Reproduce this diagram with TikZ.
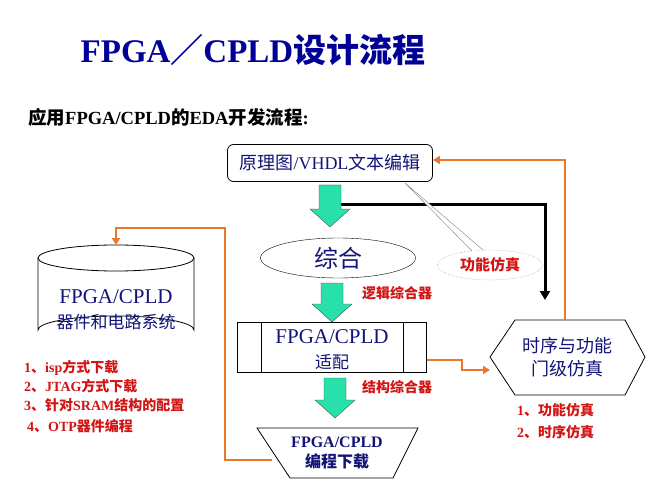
\documentclass[tikz,border=0pt]{standalone}
\usepackage{fontspec}
\setmainfont{Liberation Serif}
\newfontfamily\cjk{Noto Sans CJK SC}
\usetikzlibrary{shapes.geometric,arrows.meta}
\definecolor{navy}{RGB}{20,20,120}
\definecolor{ttl}{RGB}{0,0,150}
\definecolor{redt}{RGB}{210,20,20}
\definecolor{org}{RGB}{235,120,40}
\definecolor{grn}{RGB}{40,225,170}
\newcommand\garrow[3]{\draw[fill=grn,draw=black!70] (#1-11,#2)--(#1+11,#2)--(#1+11,#3-18)--(#1+20,#3-18)--(#1,#3)--(#1-20,#3-18)--(#1-11,#3-18)--cycle;}
\begin{document}
\begin{tikzpicture}[x=1pt,y=-1pt,
  redl/.style={text=redt,font=\bfseries\fontsize{14}{16}\selectfont,anchor=west,inner sep=0pt},
  oarr/.style={draw=org,line width=2.2pt,-{Triangle[length=7pt,width=8pt]}},
  box/.style={draw=black,line width=0.8pt,fill=white}]
\useasboundingbox (0,0) rectangle (667,500);
\node[text=ttl,font=\bfseries\fontsize{33}{36}\selectfont] (title) at (253,50) {FPGA{\cjk ／}CPLD{\cjk 设计流程}};
\node[anchor=west,inner sep=0pt,font=\bfseries\fontsize{18.5}{20}\selectfont] (sub) at (28,117) {{\cjk 应用}FPGA/CPLD{\cjk 的}EDA{\cjk 开发流程}:};
% top box
\node[box,rounded corners=6pt,minimum width=205pt,minimum height=37pt,text=navy,font=\fontsize{18}{20}\selectfont] (src) at (330,163) {{\cjk 原理图}/VHDL{\cjk 文本编辑}};
% black arrow
\coordinate (b1) at (340,204);\coordinate (b2) at (545,204);\coordinate (b3) at (545,300);
\draw[line width=3pt,-{Triangle[length=9pt,width=10pt]}] (b1)--(b2)--(b3);
\garrow{330}{185}{227}
% ellipse synth
\node[draw,ellipse,minimum width=155pt,minimum height=40pt,inner sep=0pt,text=navy,font=\cjk\fontsize{24}{26}\selectfont] (syn) at (338,258) {综合};
% callout
\node[draw=gray,densely dotted,ellipse,minimum width=105pt,minimum height=30pt,inner sep=0pt,text=redt,font=\cjk\bfseries\fontsize{15}{17}\selectfont] (fs) at (490,265) {功能仿真};
\coordinate (c0) at (405,183);
\draw[gray,fill=white] (472,251)--(c0)--(483,250);
\garrow{332}{283}{322}
\node[redl] (l1) at (362,293) {\cjk 逻辑综合器};
% fit box
\node[box,minimum width=189pt,minimum height=50pt] (fit) at (332,347) {};
\draw (fit.north west)++(24,0) -- ++(0,50);
\draw (fit.north east)++(-24,0) -- ++(0,50);
\node[text=navy,font=\fontsize{21}{23}\selectfont] (fitA) at (332,337) {FPGA/CPLD};
\node[text=navy,font=\cjk\fontsize{17}{19}\selectfont] (fitB) at (332,362) {适配};
\garrow{335}{378}{418}
\node[redl] (l2) at (362,387) {\cjk 结构综合器};
% trapezoid
\draw[box] (257,428)--(418,428)--(393,478)--(290,478)--cycle;
\node[text=navy,font=\bfseries\fontsize{16}{20}\selectfont,align=center] (prog) at (337,453) {FPGA/CPLD\\\cjk 编程下载};
% hexagon
\draw[box] (490,357)--(515,320)--(625,320)--(645,357)--(625,395)--(515,395)--cycle;
\node[text=navy,font=\cjk\fontsize{18}{23}\selectfont,align=center] (hex) at (567,357) {时序与功能\\门级仿真};
\coordinate (hL) at (490,370);\coordinate (hT) at (565,320);
% cylinder
\draw[box] (38,258) -- (38,330) arc[start angle=180,end angle=360,x radius=78,y radius=14] -- (194,258);
\draw[box] (116,258) ellipse[x radius=78,y radius=13];
\node[text=navy,font=\fontsize{21}{23}\selectfont] (cylA) at (116,297) {FPGA/CPLD};
\node[text=navy,font=\cjk\fontsize{17}{19}\selectfont] (cylB) at (116,322) {器件和电路系统};
\coordinate (cylT) at (116,245);
% orange connectors
\draw[oarr] (fit.east|-0,360) -- (462,360) -- (462,370) -- (hL);
\draw[oarr] (hT) -- (565,160) -- (src.east|-0,160);
\draw[oarr] (272,460) -- (225,460) -- (225,228) -- (116,228) -- (cylT);
% red lists
\node[redl] at (24,368) {1{\cjk 、}isp{\cjk 方式下载}};
\node[redl] at (24,386) {2{\cjk 、}JTAG{\cjk 方式下载}};
\node[redl] at (24,405) {3{\cjk 、}{\cjk 针对}SRAM{\cjk 结构的配置}};
\node[redl] at (27,426) {4{\cjk 、}OTP{\cjk 器件编程}};
\node[redl] at (517,410) {1{\cjk 、功能仿真}};
\node[redl] at (517,432) {2{\cjk 、时序仿真}};
\end{tikzpicture}
\end{document}
